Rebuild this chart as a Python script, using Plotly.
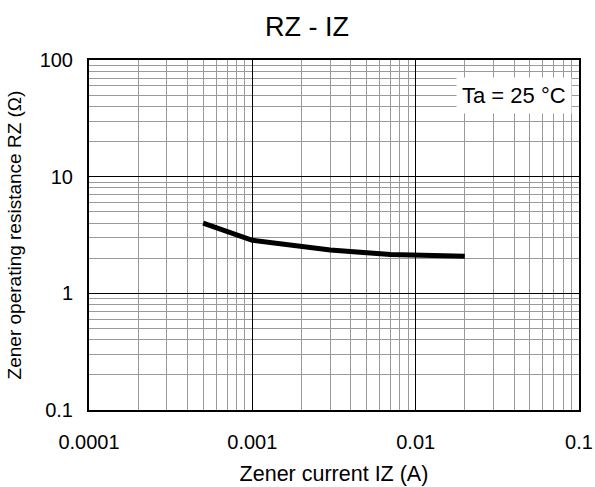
import plotly.graph_objects as go

# Data
iz = [0.0005, 0.001, 0.003, 0.007, 0.02]
rz = [4.0, 2.85, 2.35, 2.15, 2.08]

x_tickvals = [0.0001, 0.001, 0.01, 0.1]
x_ticktext = ["0.0001", "0.001", "0.01", "0.1"]
y_tickvals = [0.1, 1, 10, 100]
y_ticktext = ["0.1", "1", "10", "100"]

FONT = "Liberation Sans, Arial, sans-serif"

fig = go.Figure()
fig.add_trace(go.Scatter(x=iz, y=rz, mode="lines",
                         line=dict(color="black", width=5),
                         showlegend=False, hoverinfo="skip"))

axis_common = dict(
    type="log", automargin=False,
    showgrid=True, gridcolor="black", gridwidth=1,
    showline=True, linecolor="black", linewidth=2, mirror=True,
    ticks="", tickfont=dict(family=FONT, size=20, color="black"),
    zeroline=False, ticklabeloverflow="allow",
    minor=dict(dtick="D1", showgrid=True, gridcolor="#9a9a9a", gridwidth=1, ticks=""),
)

fig.update_xaxes(**axis_common, range=[-4, -1], tickvals=x_tickvals, ticktext=x_ticktext,
                 title_text="Zener current IZ (A)", title_standoff=14, ticklabelstandoff=13,
                 title_font=dict(family=FONT, size=21.5, color="black"))
fig.update_yaxes(**axis_common, range=[-1, 2], tickvals=y_tickvals, ticktext=y_ticktext,
                 title_text="Zener operating resistance RZ (Ω)", title_standoff=13,
                 ticklabelstandoff=10,
                 title_font=dict(family=FONT, size=19, color="black"))

fig.add_annotation(text="Ta = 25 °C", xref="paper", yref="paper", x=0.986, y=0.951,
                   xanchor="right", yanchor="top", showarrow=False,
                   bgcolor="white", borderpad=5,
                   font=dict(family=FONT, size=22, color="black"))

fig.update_layout(
    width=595, height=487,
    margin=dict(l=89, r=16, t=60, b=77),
    paper_bgcolor="white", plot_bgcolor="white",
    title=dict(text="RZ - IZ", x=0.516, xanchor="center", y=0.946, yanchor="middle",
               font=dict(family=FONT, size=27, color="black")),
)

# remove the default page margin so the figure sits at the window origin
fig.write_html("out.html",
               config={"displayModeBar": False},
               post_script="document.body.style.margin='0';document.body.style.overflow='hidden';")
